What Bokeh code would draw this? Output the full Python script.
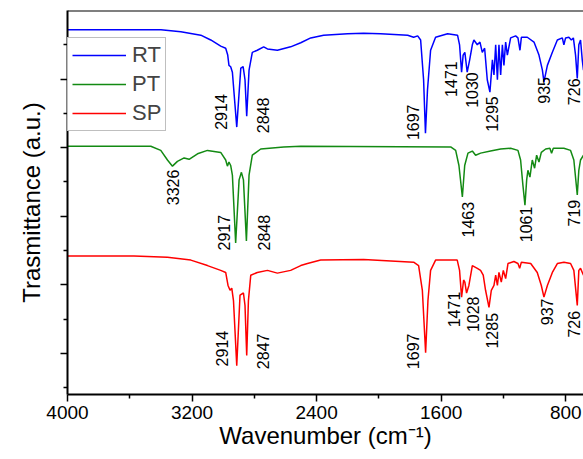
from bokeh.plotting import figure
from bokeh.models import Range1d, FixedTicker, Span, Legend, LegendItem, ColumnDataSource
from bokeh.core.properties import value
from bokeh.embed import file_html
from bokeh.resources import INLINE

# ---------------- data ----------------
rt_wn = [4000, 3400, 3272, 3144, 3080, 3016, 2984, 2971, 2963, 2952, 2941, 2913, 2887, 2872, 2860, 2849,
         2834, 2813, 2781, 2740, 2716, 2652, 2567, 2502, 2438, 2355, 2201, 2098, 1989, 1815, 1777, 1751,
         1732, 1713, 1701, 1688, 1668, 1636, 1559, 1495, 1482, 1469, 1459, 1448, 1433, 1417, 1400, 1390,
         1368, 1351, 1336, 1321, 1304, 1287, 1271, 1261, 1250, 1239, 1229, 1218, 1207, 1197, 1186, 1175,
         1154, 1122, 1107, 1094, 1085, 1047, 1004, 972, 950, 940, 918, 886, 854, 822, 812, 801, 780, 764,
         751, 737, 726, 716, 705, 694, 686]
rt_t = [5.72, 5.72, 5.69, 5.64, 5.57, 5.48, 5.45, 5.35, 5.20, 5.18, 5.10, 4.30, 5.16, 5.18, 4.99, 4.46,
        5.13, 5.39, 5.42, 5.47, 5.44, 5.42, 5.47, 5.53, 5.60, 5.64, 5.66, 5.67, 5.66, 5.64, 5.61, 5.63,
        5.57, 4.99, 4.21, 4.84, 5.42, 5.61, 5.66, 5.64, 5.50, 5.10, 5.35, 5.39, 5.10, 5.28, 5.50, 5.57,
        5.50, 5.54, 5.39, 5.45, 4.99, 4.81, 5.28, 5.06, 5.50, 4.99, 5.50, 5.06, 5.50, 5.20, 5.54, 5.35,
        5.60, 5.63, 5.60, 5.42, 5.61, 5.61, 5.54, 5.35, 5.13, 4.96, 5.20, 5.39, 5.57, 5.60, 5.50, 5.60,
        5.61, 5.57, 5.60, 5.35, 5.01, 5.50, 5.57, 5.28, 5.13]

pt_wn = [4000, 3465, 3401, 3358, 3326, 3294, 3251, 3219, 3165, 3101, 3016, 2984, 2973, 2963, 2952, 2941,
         2920, 2898, 2883, 2870, 2851, 2834, 2813, 2759, 2611, 2502, 1539, 1507, 1486, 1464, 1449, 1428,
         1400, 1379, 1347, 1283, 1218, 1154, 1107, 1090, 1075, 1062, 1051, 1043, 1030, 1015, 1000, 987,
         972, 957, 929, 902, 891, 880, 812, 769, 748, 726, 716, 705, 686]
pt_t = [4.02, 4.02, 3.96, 3.82, 3.73, 3.80, 3.85, 3.83, 3.91, 3.96, 3.93, 3.82, 3.73, 3.79, 3.74, 3.60,
        2.61, 3.53, 3.64, 3.53, 2.64, 3.60, 3.89, 3.98, 4.01, 4.02, 4.01, 3.96, 3.74, 3.28, 3.74, 3.92,
        3.95, 3.89, 3.92, 3.95, 3.98, 3.99, 3.96, 3.82, 3.45, 3.16, 3.53, 3.67, 3.57, 3.82, 3.70, 3.89,
        3.79, 3.93, 3.98, 3.99, 3.92, 3.99, 3.99, 3.96, 3.82, 3.31, 3.67, 3.82, 3.89]

sp_wn = [4000, 3573, 3358, 3208, 3101, 3016, 2984, 2969, 2956, 2945, 2934, 2913, 2892, 2870, 2860, 2849,
         2838, 2823, 2781, 2716, 2652, 2567, 2502, 2459, 2374, 2098, 1777, 1745, 1721, 1700, 1685, 1668,
         1636, 1497, 1482, 1469, 1456, 1448, 1437, 1422, 1400, 1368, 1347, 1330, 1315, 1293, 1278, 1261,
         1250, 1239, 1229, 1214, 1201, 1186, 1171, 1133, 1107, 1096, 1085, 1025, 983, 957, 940, 918,
         886, 854, 812, 769, 748, 726, 716, 705, 686]
sp_t = [2.42, 2.42, 2.40, 2.36, 2.28, 2.21, 2.18, 1.99, 1.92, 1.95, 1.77, 0.82, 1.85, 1.88, 1.70, 0.97,
        1.77, 2.14, 2.18, 2.21, 2.17, 2.21, 2.28, 2.31, 2.36, 2.37, 2.33, 2.28, 1.92, 1.01, 1.77, 2.21,
        2.36, 2.36, 2.21, 1.82, 2.07, 2.04, 1.88, 1.99, 2.28, 2.24, 2.21, 2.14, 1.92, 1.67, 1.92, 1.99,
        2.14, 1.99, 2.18, 2.04, 2.21, 2.09, 2.31, 2.34, 2.31, 2.24, 2.33, 2.31, 2.18, 1.99, 1.82, 1.99,
        2.18, 2.31, 2.33, 2.31, 2.21, 1.70, 2.21, 2.24, 2.14]

series_names = ["RT", "PT", "SP"]

rt_labels = ["2914", "2848", "1697", "1471", "1030", "1295", "935", "726"]
pt_labels = ["3326", "2917", "2848", "1463", "1061", "719"]
sp_labels = ["2914", "2847", "1697", "1471", "1028", "1285", "937", "726"]

x_ticks = [4000, 3200, 2400, 1600, 800]
x_minor = [3600, 2800, 2000, 1200]
y_ticks = [1, 2, 3, 4, 5]
y_minor = [0.5, 1.5, 2.5, 3.5, 4.5, 5.5]

# label anchor points (bottom end of the rotated text), in data units
rt_lab_x = [3015, 2746, 1783, 1539, 1399, 1271, 937, 750]
rt_lab_y = [4.26, 4.21, 4.11, 4.74, 4.58, 4.23, 4.64, 4.62]
pt_lab_x = [3324, 2995, 2739, 1430, 1058, 750]
pt_lab_y = [3.16, 2.50, 2.50, 2.69, 2.62, 2.85]
sp_lab_x = [3009, 2746, 1783, 1519, 1393, 1271, 918, 750]
sp_lab_y = [0.81, 0.77, 0.77, 1.38, 1.31, 1.07, 1.41, 1.23]

# ---------------- figure ----------------
FONT = "Liberation Sans"
Y_TOP = 6.0

p = figure(width=583, height=459, output_backend="svg", toolbar_location=None,
           x_range=Range1d(4000, 686), y_range=Range1d(0.40, Y_TOP),
           min_border_left=67, min_border_right=0, min_border_top=10, min_border_bottom=65)
p.grid.visible = False
p.outline_line_color = None
p.background_fill_color = "white"
p.border_fill_color = "white"

colors = ["#0000ff", "#138a13", "#ff0000"]
r_rt = p.line(rt_wn, rt_t, line_color=colors[0], line_width=1.5)
r_pt = p.line(pt_wn, pt_t, line_color=colors[1], line_width=1.5)
r_sp = p.line(sp_wn, sp_t, line_color=colors[2], line_width=1.5)

for lx, ly, lt in [(rt_lab_x, rt_lab_y, rt_labels), (pt_lab_x, pt_lab_y, pt_labels), (sp_lab_x, sp_lab_y, sp_labels)]:
    src = ColumnDataSource(dict(x=lx, y=ly, t=lt))
    p.text(x="x", y="y", text="t", source=src, angle=1.5707963, text_align="left",
           text_baseline="middle", text_font=value(FONT), text_font_size="16px", text_color="black")

# top frame line
p.add_layout(Span(location=Y_TOP, dimension="width", line_color="black", line_width=2))

# axes
p.xaxis.ticker = FixedTicker(ticks=x_ticks, minor_ticks=x_minor)
p.yaxis.ticker = FixedTicker(ticks=y_ticks, minor_ticks=y_minor)
p.yaxis.major_label_overrides = {t: "" for t in y_ticks}
for ax in (p.xaxis[0], p.yaxis[0]):
    ax.axis_line_width = 2
    ax.axis_line_color = "black"
    ax.major_tick_line_width = 1.5
    ax.minor_tick_line_width = 1.5
    ax.major_tick_line_color = "black"
    ax.minor_tick_line_color = "black"
    ax.major_tick_in = 0
    ax.major_tick_out = 7
    ax.minor_tick_in = 0
    ax.minor_tick_out = 4
    ax.major_label_text_font = FONT
    ax.major_label_text_font_size = "19px"
    ax.major_label_text_color = "black"
    ax.axis_label_text_font = FONT
    ax.axis_label_text_font_size = "24px"
    ax.axis_label_text_font_style = "normal"
    ax.axis_label_text_color = "black"
p.xaxis.axis_label = "Wavenumber (cm\u207b\u00b9)"
p.yaxis.axis_label = "Trasmittance (a.u.)"
p.xaxis.major_label_standoff = 4
p.xaxis.axis_label_standoff = 0
p.yaxis.axis_label_standoff = 16

legend = Legend(items=[LegendItem(label=series_names[0], renderers=[r_rt]),
                       LegendItem(label=series_names[1], renderers=[r_pt]),
                       LegendItem(label=series_names[2], renderers=[r_sp])],
                location=(0, 263))
legend.label_text_font = FONT
legend.label_text_font_size = "22px"
legend.border_line_color = "#7f7f7f"
legend.border_line_width = 1
legend.background_fill_alpha = 1
legend.glyph_width = 54
legend.glyph_height = 26
legend.label_height = 26
legend.spacing = 3
legend.padding = 4
legend.margin = 0
legend.label_standoff = 6
p.add_layout(legend)

open("out.html", "w").write(file_html(p, INLINE))
